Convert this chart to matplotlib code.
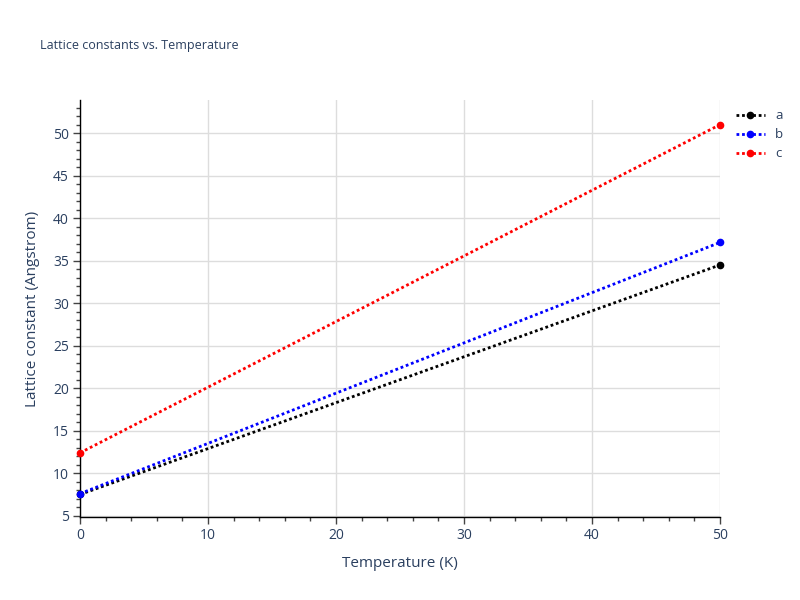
import matplotlib
matplotlib.use("Agg")
import matplotlib.pyplot as plt
from matplotlib.ticker import MultipleLocator

plt.rcParams['font.family'] = ['Open Sans', 'DejaVu Sans']

temps = [0, 50]
a_vals = [7.5, 34.5]
b_vals = [7.6, 37.15]
c_vals = [12.4, 51.0]
names = ["a", "b", "c"]
colors = ["black", "blue", "red"]

txt = "#2a3f5f"

fig = plt.figure(figsize=(8, 6), dpi=100)
ax = fig.add_axes([0.1, 0.1383, 0.8, 0.695])

for vals, name, col in zip([a_vals, b_vals, c_vals], names, colors):
    ax.plot(temps, vals, linestyle=(0, (1, 1)), linewidth=2, color=col,
            marker="o", markersize=4.5, label=name, clip_on=False, zorder=3)

ax.set_xlim(0, 50)
ax.set_ylim(4.85, 53.9)
ax.xaxis.set_major_locator(MultipleLocator(10))
ax.xaxis.set_minor_locator(MultipleLocator(2))
ax.yaxis.set_major_locator(MultipleLocator(5))
ax.yaxis.set_minor_locator(MultipleLocator(1))
ax.grid(True, which="major", color="#dddddd", linewidth=1, zorder=0)
ax.set_axisbelow(True)

for s in ["top", "right"]:
    ax.spines[s].set_visible(False)
for s in ["left", "bottom"]:
    ax.spines[s].set_color("black")
    ax.spines[s].set_linewidth(1)

ax.tick_params(which="major", direction="out", length=5, width=1, color="#444444",
               labelsize=10, labelcolor=txt, pad=3)
ax.tick_params(which="minor", direction="out", length=3, width=1, color="#444444")

ax.set_xlabel("Temperature (K)", fontsize=11, color=txt, labelpad=9)
ax.set_ylabel("Lattice constant (Angstrom)", fontsize=11, color=txt, labelpad=9)
fig.text(0.05, 0.925, "Lattice constants vs. Temperature", fontsize=9, color=txt,
         va="center", ha="left")

leg = ax.legend(loc="upper left", bbox_to_anchor=(1.01, 1.0), frameon=False,
                fontsize=9.5, handlelength=2.2, labelspacing=0.45, borderaxespad=0.3)
for t in leg.get_texts():
    t.set_color(txt)

fig.savefig("out.png", dpi=100)
